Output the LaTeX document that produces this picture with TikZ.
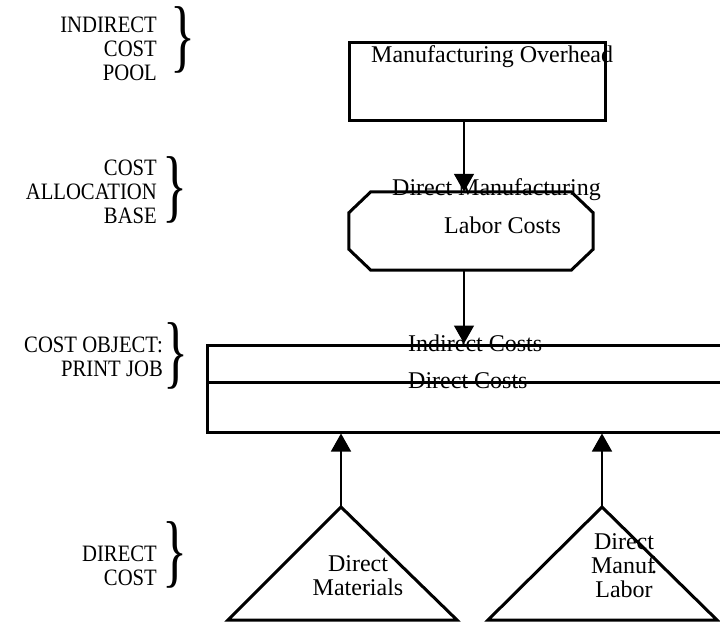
\documentclass[tikz,border=0pt]{standalone}
\usepackage{fontspec}
\usepackage{graphicx}
\setmainfont{Liberation Serif}
\usetikzlibrary{arrows.meta}
\begin{document}
\begin{tikzpicture}[x=1pt,y=-1pt,
  shapebox/.style={draw, line width=3pt, inner sep=0pt},
  boxtext/.style={inner sep=0pt, font=\fontsize{24}{24}\selectfont},
  sidetext/.style={inner sep=0pt, align=right, anchor=north east, xscale=0.88,
    transform shape, font=\fontsize{23.5}{24}\selectfont},
  bracemark/.style={inner sep=0pt, font=\fontsize{52}{52}\selectfont},
  flow/.style={line width=1.5pt, -{Triangle[width=20pt,length=18pt]}},
  outline/.style={line width=3pt, line join=miter},
]
\clip (0,0) rectangle (720,623);

% indirect cost pool
\node[shapebox, minimum width=256pt, minimum height=78pt] (mo) at (477,82) {};
\node[boxtext, anchor=base west] (motext) at (371,63) {Manufacturing Overhead};

% allocation base: octagon with cut corners
\node[inner sep=0pt, minimum width=244pt, minimum height=78pt] (dml) at (471,231) {};
\draw[outline] ([xshift=22pt]dml.north west) -- ([xshift=-22pt]dml.north east)
  -- ([yshift=-21pt]dml.north east) -- ([yshift=21pt]dml.south east)
  -- ([xshift=-22pt]dml.south east) -- ([xshift=22pt]dml.south west)
  -- ([yshift=21pt]dml.south west) -- ([yshift=-21pt]dml.north west) -- cycle;
\node[boxtext, anchor=base west] (dmltop) at (392,195) {Direct Manufacturing};
\node[boxtext, anchor=base west] (dmlbot) at (444,233) {Labor Costs};

% cost object
\node[shapebox, minimum width=560pt, minimum height=87pt] (job) at (487,388.5) {};
\coordinate (midL) at (207,382);
\draw[line width=3pt] (midL) -- (midL -| job.east);
\node[boxtext, anchor=base west] (ind) at (408,351) {Indirect Costs};
\node[boxtext, anchor=base west] (dir) at (408,388) {Direct Costs};

% direct costs
\coordinate (dmA) at (341,507);
\coordinate (dmL) at (228,620);
\coordinate (dmR) at (457,620);
\draw[outline] (dmA) -- (dmR) -- (dmL) -- cycle;
\node[boxtext, align=center, anchor=north] (dmtext) at (358,555) {Direct\\Materials};

\coordinate (labA) at (602,507);
\coordinate (labL) at (488,620);
\coordinate (labR) at (717,620);
\draw[outline] (labA) -- (labR) -- (labL) -- cycle;
\node[boxtext, align=center, anchor=north] (labtext) at (624,533) {Direct\\Manuf\kern-4pt.\\Labor};

% connectors
\coordinate (ax) at (464,0);
\draw[flow] (mo.south -| ax) -- (dml.north -| ax);
\draw[flow] (dml.south -| ax) -- (job.north -| ax);
\draw[flow] (dmA) -- (dmA |- job.south);
\draw[flow] (labA) -- (labA |- job.south);

% side labels
\node[sidetext] (pool) at (157,16.5) {INDIRECT\\COST\\POOL};
\node[sidetext] (base) at (157,159.5) {COST\\ALLOCATION\\BASE};
\node[sidetext] (object) at (163,336.5) {COST OBJECT:\\PRINT JOB};
\node[sidetext] (direct) at (157,545.5) {DIRECT\\COST};

\node[bracemark] (b1) at (183,39.5) {\scalebox{1}[1.55]{\}}};
\node[bracemark] (b2) at (175,190) {\scalebox{1}[1.55]{\}}};
\node[bracemark] (b3) at (176,356) {\scalebox{1}[1.55]{\}}};
\node[bracemark] (b4) at (175,555) {\scalebox{1}[1.55]{\}}};
\end{tikzpicture}
\end{document}
